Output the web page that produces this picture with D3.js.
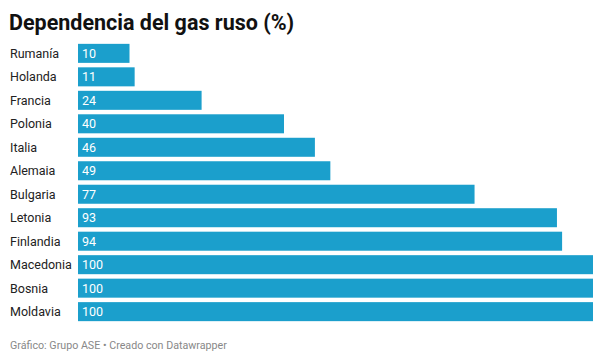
<!DOCTYPE html>
<html><head><meta charset="utf-8">
<script src="https://cdn.jsdelivr.net/npm/d3@7"></script>
<style>body{margin:0;background:#fff;font-family:Roboto,"Noto Sans",sans-serif;}</style>
</head><body><svg id="c" width="604" height="361"></svg>
<script>
const categories = ["Rumanía","Holanda","Francia","Polonia","Italia","Alemaia","Bulgaria","Letonia","Finlandia","Macedonia","Bosnia","Moldavia"];
const values = [10,11,24,40,46,49,77,93,94,100,100,100];
const title = "Dependencia del gas ruso (%)";
const footer = "Gráfico: Grupo ASE • Creado con Datawrapper";

const svg = d3.select("#c");
svg.append("rect").attr("width",604).attr("height",361).attr("fill","#fff");
svg.append("text").attr("x",9).attr("y",30).text(title)
  .attr("font-size",21.5).attr("font-weight",700).attr("fill","#111").attr("font-family","Roboto");

const x = d3.scaleLinear().domain([0,100]).range([78,593]);
const y = d3.scaleBand().domain(categories).range([41.5,323.5]).paddingInner(0.19).paddingOuter(0.1);

const g = svg.append("g");
g.selectAll("rect.bar").data(categories).join("rect").attr("class","bar")
  .attr("x",x(0)).attr("y",d=>y(d)).attr("height",y.bandwidth())
  .attr("width",(d,i)=>x(values[i])-x(0)).attr("fill","#1b9fcc");
g.selectAll("text.lab").data(categories).join("text").attr("class","lab")
  .attr("x",10).attr("y",d=>y(d)+y.bandwidth()/2).attr("dy","0.35em")
  .attr("font-size",12.5).attr("fill","#222").text(d=>d);
g.selectAll("text.val").data(categories).join("text").attr("class","val")
  .attr("x",x(0)+4).attr("y",d=>y(d)+y.bandwidth()/2).attr("dy","0.35em")
  .attr("font-size",12.5).attr("fill","#fff").text((d,i)=>values[i]);

svg.append("text").attr("x",10).attr("y",349).text(footer)
  .attr("font-size",10.7).attr("fill","#888");
</script></body></html>
